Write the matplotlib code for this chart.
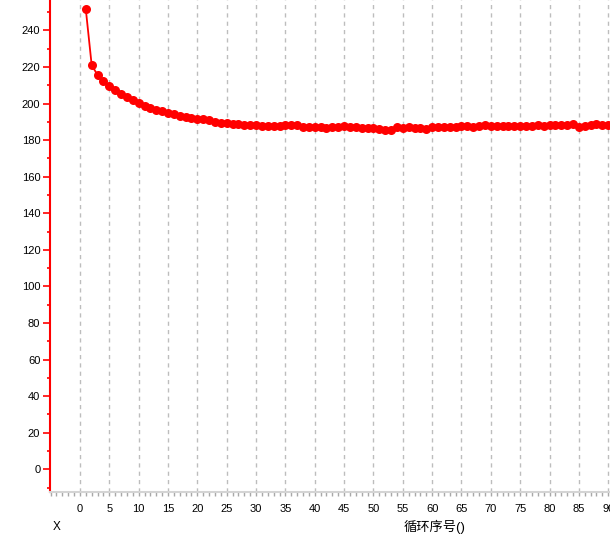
import matplotlib
matplotlib.use("Agg")
import matplotlib.pyplot as plt
from matplotlib.ticker import MultipleLocator, FixedLocator

plt.rcParams['font.family'] = ['Liberation Sans', 'Noto Sans CJK SC', 'DejaVu Sans']

cycles = list(range(1, 91))
values = [
    251.5, 221.0, 215.6, 212.3, 209.4, 207.6, 205.2, 203.6, 202.0, 200.2,
    198.7, 197.6, 196.6, 195.8, 194.9, 194.2, 193.4, 192.8, 192.3, 191.7,
    191.4, 191.1, 189.8, 189.6, 189.4, 188.9, 188.7, 188.4, 188.5, 188.2,
    187.8, 187.6, 187.7, 187.8, 188.2, 188.1, 188.0, 187.2, 187.0, 186.9,
    187.0, 186.8, 187.1, 187.0, 187.5, 187.4, 187.0, 186.6, 186.5, 186.4,
    186.0, 185.7, 185.6, 186.9, 186.8, 186.9, 186.7, 186.8, 186.3, 186.9,
    187.1, 187.2, 187.3, 187.2, 187.5, 187.6, 187.4, 187.6, 188.0, 187.5,
    187.8, 187.9, 187.6, 187.8, 187.7, 187.8, 187.9, 188.0, 187.9, 188.0,
    188.0, 188.1, 188.2, 188.9, 187.2, 187.8, 188.0, 188.6, 188.2, 188.0,
]
x_ticks = list(range(0, 95, 5))
x_label_left = "X"
x_title = "循环序号()"

fig = plt.figure(figsize=(6.10, 5.45), dpi=100)
ax = fig.add_axes([50/610, (545-492)/545, 560/610, 492/545])

ax.plot(cycles, values, color='#ff0000', lw=1.3, marker='o', ms=6.5,
        markeredgewidth=0, zorder=3, clip_on=True)

ax.set_xlim(-5.1, 90.3)
ax.set_ylim(-12.4, 256.6)

ax.xaxis.set_major_locator(FixedLocator(x_ticks))
ax.xaxis.set_minor_locator(MultipleLocator(1))
ax.yaxis.set_major_locator(MultipleLocator(20))
ax.yaxis.set_minor_locator(MultipleLocator(10))

ax.grid(axis='x', which='major', color='#bdbdbd', linestyle=(0, (3, 3)), lw=1.0)

for s in ['top', 'right']:
    ax.spines[s].set_visible(False)
ax.spines['left'].set_color('#ff0000')
ax.spines['left'].set_linewidth(1.5)
ax.spines['bottom'].set_color('#d4d4d4')
ax.spines['bottom'].set_linewidth(1.5)

ax.tick_params(axis='y', which='major', colors='#ff0000', length=5, width=1.2,
               labelcolor='black', labelsize=8, pad=2)
ax.tick_params(axis='y', which='minor', colors='#ff0000', length=2.5, width=1.2)
ax.tick_params(axis='x', which='major', colors='#a8a8a8', length=3, width=1,
               labelcolor='black', labelsize=8, pad=6)
ax.tick_params(axis='x', which='minor', colors='#a8a8a8', length=3, width=1)

fig.text(57/610, (545-527)/545, x_label_left, fontsize=8.5, ha='center', va='center')
fig.text(435/610, (545-527)/545, x_title, fontsize=9.5, ha='center', va='center')

fig.savefig("out.png", dpi=100)
